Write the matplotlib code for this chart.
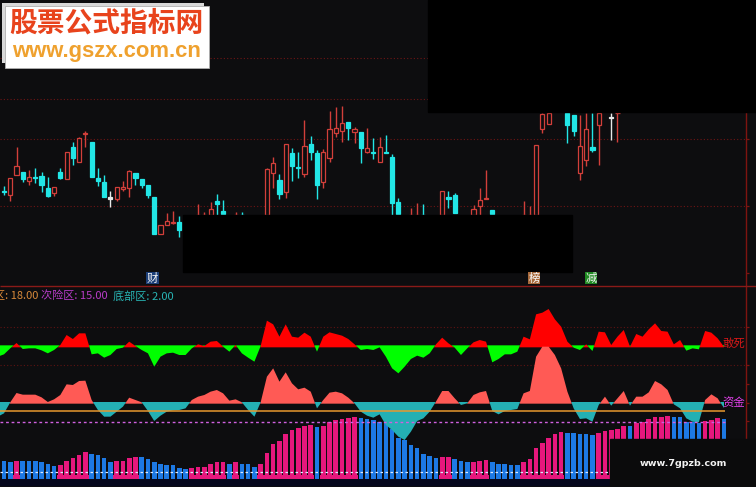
from __future__ import annotations

import matplotlib
matplotlib.use("Agg")
import matplotlib.pyplot as plt
import numpy as np
from matplotlib.patches import Rectangle

BG = "#0d0d0f"
CJK = ["Noto Sans CJK SC", "DejaVu Sans"]

# candles: bar index, body top, body bottom, high, low, kind (rows on the price scale)
candle_idx = [0, 1, 2, 3, 4, 5, 6, 7, 8, 9, 10, 11, 12, 13, 14, 15, 16, 17, 18, 19,
              20, 21, 22, 23, 24, 25, 26, 27, 28, 31, 32, 33, 34, 35, 37, 38,
              42, 43, 44, 45, 46, 47, 48, 49, 50, 51, 52, 53, 54, 55, 56, 57, 58, 59,
              60, 61, 62, 63, 65, 66, 67, 70, 71, 72, 75, 76, 77, 78, 83, 84, 85, 86, 87,
              90, 91, 92, 93, 94, 95, 97, 98]
candle_top = [572, 535, 498, 517, 532, 530, 528, 563, 560, 515, 455, 440, 415, 398, 425, 535, 546, 592, 560, 562,
              512, 518, 536, 556, 590, 676, 662, 665, 665, 645, 645, 628, 603, 634, 645, 645,
              508, 490, 540, 433, 460, 500, 437, 431, 460, 455, 387, 384, 370, 366, 387, 396, 445, 455,
              440, 455, 470, 606, 645, 645, 645, 572, 592, 585, 628, 601, 593, 631, 645, 645, 434, 342, 338,
              338, 345, 437, 387, 441, 338, 350, 338]
candle_bot = [575, 585, 525, 538, 542, 533, 555, 587, 578, 535, 538, 473, 487, 402, 530, 542, 590, 597, 597, 566,
              565, 535, 555, 585, 703, 703, 674, 669, 690, 645, 645, 645, 612, 643, 645, 645,
              645, 520, 583, 575, 497, 503, 523, 457, 555, 545, 473, 398, 392, 385, 395, 443, 457, 459,
              485, 460, 608, 643, 645, 645, 645, 645, 598, 638, 645, 618, 598, 643, 645, 645, 645, 387, 372,
              375, 393, 520, 480, 450, 375, 354, 338]
candle_high = [558, 535, 440, 517, 510, 505, 516, 530, 560, 505, 455, 425, 412, 392, 425, 505, 526, 572, 560, 543,
               510, 518, 536, 556, 590, 676, 640, 632, 648, 613, 636, 607, 582, 600, 635, 637,
               505, 472, 522, 433, 445, 455, 360, 407, 450, 447, 333, 322, 318, 366, 380, 396, 385, 415,
               412, 405, 462, 593, 625, 610, 613, 572, 572, 578, 615, 565, 510, 631, 603, 617, 434, 340, 338,
               338, 345, 345, 338, 338, 338, 338, 338]
candle_low = [585, 603, 525, 545, 555, 548, 575, 590, 588, 537, 538, 495, 487, 440, 530, 558, 592, 620, 602, 572,
              590, 555, 565, 595, 703, 703, 676, 672, 710, 645, 645, 645, 645, 645, 645, 645,
              645, 565, 598, 593, 543, 535, 530, 480, 597, 563, 485, 410, 425, 420, 430, 488, 458, 478,
              485, 460, 645, 645, 645, 645, 645, 645, 623, 638, 645, 645, 598, 643, 645, 645, 645, 400, 372,
              430, 408, 540, 497, 455, 495, 420, 425]
candle_kind = list("crrcrcccrcrcrrccc" "wrrr" "cccc" "rrrc"   # 0-28
                   "rrrcc" "rc"                              # 31-38
                   "rrcrccrccrrrrcrcrc"                      # 42-59
                   "rccc" "rrc" "rcc" "rrrc"                 # 60-78
                   "rrrrr" "ccrrcr" "wr")                    # 83-98

# oscillator rows, one per bar from index -1
osc_a = [215, 208, 190, 174, 192, 190, 190, 196, 205, 195, 180, 150, 162, 145, 145, 208, 205, 218, 210, 192,
         188, 170, 183, 195, 205, 245, 215, 205, 203, 210, 210, 190, 178, 183, 170, 168, 185, 200, 180, 205,
         218, 230, 183, 107, 118, 155, 118, 155, 158, 143, 155, 200, 155, 142, 147, 152, 162, 178, 195, 192,
         195, 187, 215, 250, 265, 245, 222, 212, 218, 205, 178, 158, 175, 188, 210, 190, 172, 165, 170, 232,
         222, 208, 208, 200, 155, 163, 88, 83, 72, 103, 125, 170, 188, 195, 178, 198, 140, 142, 180, 155,
         135, 185, 147, 155, 133, 115, 138, 140, 178, 165, 197, 190, 193, 138, 143, 160, 185]
osc_b = [395, 385, 352, 324, 329, 329, 329, 337, 351, 343, 330, 298, 300, 288, 287, 345, 375, 395, 395, 380,
         365, 338, 345, 352, 378, 408, 392, 380, 376, 375, 370, 345, 335, 330, 320, 315, 325, 347, 343, 352,
         375, 395, 352, 275, 250, 290, 262, 295, 313, 308, 320, 370, 345, 323, 320, 325, 338, 355, 380, 392,
         398, 388, 420, 435, 455, 465, 440, 408, 400, 380, 350, 318, 318, 340, 360, 355, 330, 322, 318, 378,
         388, 378, 375, 372, 325, 318, 215, 185, 185, 210, 250, 320, 370, 402, 400, 410, 360, 335, 362, 340,
         318, 362, 335, 335, 322, 288, 298, 315, 358, 370, 400, 410, 412, 345, 328, 340, 370]

# histogram tops and colour flag per bar from index 0
hist_top = [528, 531, 528, 528, 528, 528, 532, 538, 542, 540, 528, 520, 510, 501, 508, 510, 518, 530, 528, 527,
            518, 515, 515, 522, 530, 538, 540, 541, 548, 552, 550, 546, 545, 537, 532, 532, 536, 530, 536, 536,
            545, 538, 503, 477, 467, 447, 435, 430, 423, 420, 427, 423, 410, 405, 402, 399, 396, 399, 402, 405,
            410, 412, 432, 458, 465, 480, 490, 508, 514, 520, 517, 515, 522, 528, 532, 530, 527, 525, 532, 538,
            538, 540, 541, 530, 522, 490, 475, 458, 447, 440, 443, 443, 447, 447, 450, 443, 437, 435, 432, 424,
            424, 415, 410, 403, 397, 395, 392, 397, 397, 410, 412, 413, 408, 404, 400, 403]
hist_flags = ("BB" "P" "BBBBBB" "PPPPP" "BBBB" "PPPP" "BBBBBBBB" "PPPPPP" "B" "P" "BBB"
              "PPPPPPPPP" "B" "PPPPPP" "BBBBBBBBBBBBB" "PP" "BBB" "PPP" "BBBBB" "PPPPPPP"
              "BBBBB" "PPPPP" "B" "PPPPPP" "BBBBB" "PPP" "B")

price_grid = [173, 297, 418, 618]
price_ticks = [173, 297, 418, 618, 818]
ind_grid = [127, 240]
ind_ticks = [127, 240, 297, 353, 408, 465]

SPACING = 6.26
XMIN, XMAX = -4 / SPACING, (756 - 4) / SPACING
AX_RIGHT = (745.7 - 4) / SPACING

fig = plt.figure(figsize=(7.56, 4.87), dpi=100, facecolor=BG)


def panel(top, bottom, ylim):
    ax = fig.add_axes([0, 1 - bottom / 487, 1, (bottom - top) / 487])
    ax.set_xlim(XMIN, XMAX)
    ax.set_ylim(*ylim)
    ax.set_facecolor("none")
    ax.axis("off")
    return ax


price_ax = panel(0, 286, (858, 0))
ind_ax = panel(285, 487, (606, 0))

# price panel
price_ax.hlines(price_grid, XMIN, AX_RIGHT, colors="#6e1414", linestyles=(0, (1, 2)), linewidth=0.8)
colors = {"r": "#d23f3a", "c": "#22e6e6", "w": "#e8e8e8"}
for i, top, bot, hi, lo, kind in zip(candle_idx, candle_top, candle_bot, candle_high, candle_low, candle_kind):
    col = colors[kind]
    price_ax.vlines(i, hi, lo, colors=col, linewidth=1.0, zorder=2)
    face = BG if kind == "r" else col
    price_ax.bar(i, bot - top, bottom=top, width=0.66, facecolor=face, edgecolor=col, linewidth=0.9, zorder=3)

# indicator panel
ind_ax.hlines(ind_grid, XMIN, AX_RIGHT, colors="#5e1212", linestyles=(0, (1, 2)), linewidth=0.8)
hist_x = np.arange(len(hist_top))
hist_top = np.array(hist_top)
hist_pink = np.array([c == "P" for c in hist_flags])
ind_ax.axhspan(583, 600, color="#05071c", zorder=1)
for mask, col in ((hist_pink, "#e6177c"), (~hist_pink, "#1d79e4")):
    ind_ax.bar(hist_x[mask], 583 - hist_top[mask], bottom=hist_top[mask], width=0.74, color=col, linewidth=0, zorder=2)
ind_ax.bar(hist_x[hist_pink], 13, bottom=570, width=1.02, color="#e6177c", linewidth=0, zorder=2)
ind_ax.hlines(560, XMIN, 115.4, colors="#d8e8ff", linestyles=(0, (2, 2)), linewidth=0.9, zorder=3)

osc_x = np.arange(-1, len(osc_a) - 1)
osc_a = np.array(osc_a)
osc_b = np.array(osc_b)
ind_ax.fill_between(osc_x, osc_a, 187, where=osc_a < 187, interpolate=True, color="#ff0000", linewidth=0, zorder=4)
ind_ax.fill_between(osc_x, 181, osc_a, where=osc_a > 181, interpolate=True, color="#00ff00", linewidth=0, zorder=4)
ind_ax.fill_between(osc_x, osc_b, 356, where=osc_b < 356, interpolate=True, color="#ff5a55", linewidth=0, zorder=4)
ind_ax.fill_between(osc_x, 351, osc_b, where=osc_b > 351, interpolate=True, color="#24b0b4", linewidth=0, zorder=4)
ind_ax.hlines(377, XMIN, 115.2, colors="#e8982e", linewidth=1.1, zorder=5)
ind_ax.hlines(410, XMIN, 115.2, colors="#d060e0", linestyles=(0, (2, 2)), linewidth=1.0, zorder=5)

# axis frame, covers, labels in pixel coordinates
over = fig.add_axes([0, 0, 1, 1])
over.set_xlim(0, 756)
over.set_ylim(487, 0)
over.set_facecolor("none")
over.axis("off")

over.vlines(745.7, 112, 487, colors="#7e1410", linewidth=1.0)
over.hlines(286, 0, 756, colors="#8a1a18", linewidth=1.0)
over.hlines([v / 3 for v in price_ticks], 745.7, 749, colors="#7e1410", linewidth=0.9)
over.hlines([285 + v / 3 for v in ind_ticks], 745.7, 749, colors="#7e1410", linewidth=0.9)

over.add_patch(Rectangle((428, 0), 328, 112, color="#000000", zorder=6))
over.add_patch(Rectangle((183, 215), 389, 57, color="#000000", zorder=6))
over.add_patch(Rectangle((610, 439), 146, 48, color="#0b0b0c", zorder=6))
over.text(683, 463, "www.7gpzb.com", color="#f2f2f2", fontsize=6.8, fontweight="bold",
          family="DejaVu Sans", ha="center", va="center", zorder=7)

over.add_patch(Rectangle((2, 3), 202, 60, facecolor="#d8d8d8", linewidth=0, zorder=6))
over.add_patch(Rectangle((5, 6), 204, 62, facecolor="#ffffff", edgecolor="#b0b0b0", linewidth=0.6, zorder=6))
over.text(106, 24, "股票公式指标网", color="#e8431c", fontsize=20, fontweight="bold", family=CJK,
          ha="center", va="center", zorder=7)
over.text(106, 52, "www.gszx.com.cn", color="#efa12e", fontsize=15.8, fontweight="bold", family="Liberation Sans",
          ha="center", va="center", zorder=7)

for x, ch, face in ((152.5, "财", "#1c3f78"), (534, "榜", "#a86a3c"), (591, "减", "#1f8a22")):
    over.text(x, 278, ch, color="#f4f4f4", fontsize=8.2, family=CJK, ha="center", va="center", zorder=7,
              bbox=dict(facecolor=face, edgecolor="none", pad=0.6))

over.text(-6, 296, "区: 18.00", color="#d8893a", fontsize=8, family=CJK, va="center", zorder=7)
over.text(41, 296, "次险区: 15.00", color="#b83cc8", fontsize=8, family=CJK, va="center", zorder=7)
over.text(113, 296, "底部区: 2.00", color="#28b4b4", fontsize=8, family=CJK, va="center", zorder=7)
over.text(734, 344, "敢死", color="#d81818", fontsize=8.2, family=CJK, ha="center", va="center", zorder=7)
over.text(734, 402, "资金", color="#e040e8", fontsize=8.2, family=CJK, ha="center", va="center", zorder=7)

assert len(candle_kind) == len(candle_idx)
assert len(hist_flags) == len(hist_top)
fig.savefig("out.png", dpi=100, facecolor=BG)
